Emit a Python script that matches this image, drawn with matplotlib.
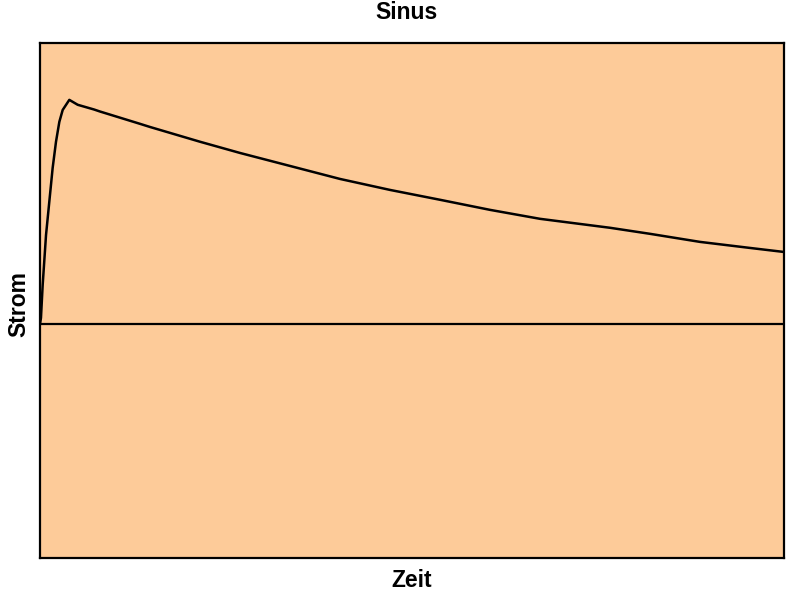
import matplotlib
matplotlib.use("Agg")
import matplotlib.pyplot as plt
import numpy as np

plt.rcParams['font.family'] = ['Liberation Sans', 'DejaVu Sans']

# Data (time in arbitrary units 0..100, current normalised to peak)
zeit = [0.0, 0.13, 0.36, 0.81, 1.25, 1.70, 2.15, 2.60, 3.05, 3.94, 4.40, 5.07,
        7.26, 8.06, 13.44, 14.78, 21.51, 26.88, 33.60, 40.32, 47.04, 53.76,
        60.48, 67.20, 76.61, 81.99, 88.71, 95.43, 100.0]
strom = [0.0, 0.027, 0.174, 0.397, 0.545, 0.696, 0.813, 0.902, 0.955, 1.0, 0.991,
         0.978, 0.957, 0.948, 0.893, 0.879, 0.813, 0.763, 0.705, 0.647, 0.598, 0.554,
         0.509, 0.469, 0.429, 0.402, 0.366, 0.339, 0.321]

title = "Sinus"
xlabel = "Zeit"
ylabel = "Strom"

fig = plt.figure(figsize=(8, 6.05), dpi=100)
ax = fig.add_axes([0.05, 0.0777, 0.93, 0.8513])
ax.set_facecolor('#FDCB99')
ax.plot(zeit, strom, color='black', lw=1.8, solid_joinstyle='round')
ax.axhline(0, color='black', lw=1.6)
ax.set_xlim(0, 100)
ax.set_ylim(-1.045, 1.254)
ax.set_xticks([])
ax.set_yticks([])
for s in ax.spines.values():
    s.set_linewidth(1.6)
    s.set_color('black')

fig.text(0.508, 0.979, title, ha='center', va='center', fontsize=16.5, fontweight='bold')
fig.text(0.514, 0.041, xlabel, ha='center', va='center', fontsize=16.5, fontweight='bold')
fig.text(0.023, 0.497, ylabel, ha='center', va='center', rotation=90, fontsize=16.5, fontweight='bold')

fig.savefig('out.png', dpi=100)
